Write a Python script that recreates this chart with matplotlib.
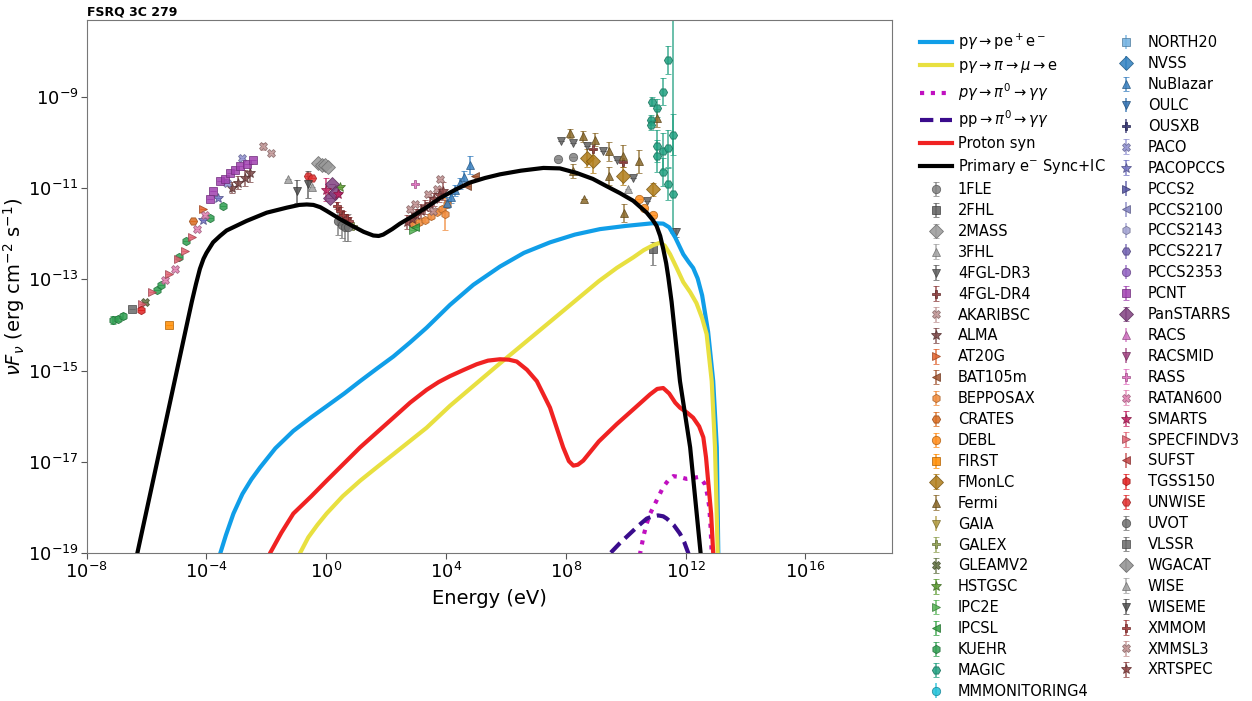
import numpy as np
import matplotlib
matplotlib.use("Agg")
import matplotlib.pyplot as plt
from matplotlib.ticker import NullLocator, FixedLocator, LogFormatterSciNotation

# ---------------- model curves (log10 E [eV], log10 nuFnu) ----------------
bh_logE = [-3.7, -3.54, -3.35, -3.10, -2.80, -2.50, -2.21, -1.70, -1.10, -0.50, 0.01, 0.60, 1.13, 1.70, 2.24,
           2.80, 3.35, 4.13, 4.91, 5.80, 6.60, 7.47, 8.30, 9.14, 10.0, 10.92, 11.25, 11.45, 11.65, 11.92,
           12.10, 12.25, 12.40, 12.55, 12.75, 12.92, 13.04, 13.09, 13.12]
bh_logF = [-19.5, -19.0, -18.6, -18.13, -17.7, -17.38, -17.12, -16.70, -16.32, -16.02, -15.78, -15.50, -15.23, -14.95, -14.69,
           -14.38, -14.06, -13.56, -13.12, -12.72, -12.42, -12.19, -12.02, -11.90, -11.83, -11.77, -11.78, -11.86, -12.08, -12.45,
           -12.62, -12.75, -12.98, -13.35, -14.15, -15.23, -16.68, -19.0, -19.5]

pi_logE = [-1.0, -0.88, -0.60, -0.30, 0.01, 0.55, 1.13, 1.70, 2.24, 3.35, 4.13, 5.80, 7.47, 9.10, 9.70, 10.25,
           10.60, 10.92, 11.14, 11.30, 11.48, 11.70, 11.92, 12.15, 12.36, 12.55, 12.70, 12.87, 12.98, 13.07, 13.10]
pi_logF = [-19.5, -19.0, -18.65, -18.38, -18.13, -17.75, -17.41, -17.11, -16.83, -16.25, -15.77, -14.84, -13.93, -13.04, -12.75, -12.52,
           -12.36, -12.25, -12.20, -12.26, -12.45, -12.75, -13.06, -13.28, -13.52, -13.85, -14.2, -15.23, -16.68, -19.0, -19.5]

pg_logE = [10.3, 10.48, 10.60, 10.70, 10.80, 10.92, 11.10, 11.25, 11.42, 11.59, 11.80, 12.03, 12.25, 12.42,
           12.55, 12.64, 12.72, 12.79, 12.83, 12.87, 12.90]
pg_logF = [-19.5, -19.0, -18.6, -18.35, -18.15, -17.99, -17.75, -17.55, -17.40, -17.31, -17.33, -17.37, -17.35, -17.33,
           -17.40, -17.48, -17.70, -17.99, -18.4, -19.0, -19.5]

pp_logE = [9.3, 9.48, 9.80, 10.14, 10.45, 10.70, 10.90, 11.08, 11.25, 11.37, 11.60, 11.81, 11.95, 12.09, 12.2]
pp_logF = [-19.4, -19.0, -18.78, -18.57, -18.38, -18.24, -18.19, -18.17, -18.19, -18.24, -18.38, -18.57, -18.75, -19.0, -19.3]

ps_logE = [-2.0, -1.88, -1.50, -1.10, -0.50, 0.01, 1.13, 2.24, 2.80, 3.35, 3.75, 4.13, 4.60, 5.02, 5.40, 5.80, 6.10, 6.36,
           6.70, 7.03, 7.47, 7.91, 8.10, 8.25, 8.40, 8.58, 9.10, 9.70, 10.30, 10.81, 11.05, 11.25, 11.45,
           11.65, 11.81, 12.05, 12.25, 12.45, 12.59, 12.68, 12.75, 12.85, 12.92, 12.95]
ps_logF = [-19.5, -19.0, -18.55, -18.13, -17.75, -17.41, -16.68, -16.03, -15.70, -15.42, -15.25, -15.12, -14.98, -14.86, -14.78, -14.75, -14.76, -14.80,
           -14.98, -15.23, -15.81, -16.68, -16.98, -17.08, -17.06, -16.97, -16.55, -16.17, -15.82, -15.52, -15.40, -15.38, -15.50,
           -15.70, -15.81, -15.92, -16.03, -16.22, -16.46, -16.90, -17.41, -18.13, -19.0, -19.5]

ec_logE = [-6.6, -6.31, -5.5, -4.9, -4.6, -4.49, -4.35, -4.22, -4.10, -4.0, -3.78, -3.55, -3.33, -2.66, -1.99, -1.32,
           -0.90, -0.65, -0.43, -0.20, 0.01, 0.46, 0.90, 1.25, 1.57, 1.75, 1.90, 2.20, 2.46, 2.90, 3.40, 3.80,
           4.30, 4.80, 5.30, 5.80, 6.50, 7.25, 7.80, 8.36, 8.90, 9.36, 9.80, 10.25, 10.70, 10.90, 11.03, 11.15,
           11.25, 11.35, 11.42, 11.53, 11.81, 12.15, 12.50, 12.6]
ec_logF = [-20.0, -19.0, -16.55, -14.73, -13.82, -13.49, -13.10, -12.77, -12.55, -12.42, -12.19, -12.05, -11.93, -11.72, -11.54, -11.43,
           -11.37, -11.36, -11.37, -11.42, -11.50, -11.68, -11.84, -11.96, -12.04, -12.05, -12.02, -11.90, -11.78, -11.61, -11.40, -11.22,
           -11.04, -10.88, -10.78, -10.70, -10.62, -10.56, -10.57, -10.67, -10.80, -10.96, -11.11, -11.28, -11.54, -11.70, -11.83, -12.05,
           -12.33, -12.65, -12.95, -13.49, -15.23, -16.68, -19.0, -19.5]

curve_labels = [r'p$\gamma\rightarrow$pe$^+$e$^-$',
                r'p$\gamma\rightarrow\pi\rightarrow\mu\rightarrow$e',
                r'$p\gamma\rightarrow\pi^0\rightarrow\gamma\gamma$',
                r'pp$\rightarrow\pi^0\rightarrow\gamma\gamma$',
                'Proton syn',
                r'Primary e$^{-}$ Sync+IC']
curve_colors = ['#109ee8', '#e8e040', '#c010c0', '#3a0c8c', '#f02222', '#000000']
curve_styles = ['-', '-', (0, (1, 1.6)), (0, (3.2, 1.6)), '-', '-']

# ---------------- data sources (legend order) ----------------
src_names = ['1FLE', '2FHL', '2MASS', '3FHL', '4FGL-DR3', '4FGL-DR4', 'AKARIBSC', 'ALMA', 'AT20G',
             'BAT105m', 'BEPPOSAX', 'CRATES', 'DEBL', 'FIRST', 'FMonLC', 'Fermi', 'GAIA', 'GALEX',
             'GLEAMV2', 'HSTGSC', 'IPC2E', 'IPCSL', 'KUEHR', 'MAGIC', 'MMMONITORING4',
             'NORTH20', 'NVSS', 'NuBlazar', 'OULC', 'OUSXB', 'PACO', 'PACOPCCS', 'PCCS2', 'PCCS2100',
             'PCCS2143', 'PCCS2217', 'PCCS2353', 'PCNT', 'PanSTARRS', 'RACS', 'RACSMID', 'RASS',
             'RATAN600', 'SMARTS', 'SPECFINDV3', 'SUFST', 'TGSS150', 'UNWISE', 'UVOT', 'VLSSR',
             'WGACAT', 'WISE', 'WISEME', 'XMMOM', 'XMMSL3', 'XRTSPEC']
src_colors = ['#808080', '#606060', '#999999', '#a3a3a3', '#606060', '#8b3a3a', '#c09595', '#7a4545', '#e0602a',
              '#a0522d', '#f08a3a', '#d96a1e', '#ff8c1a', '#ff8c00', '#b07d1a', '#8b6a2a', '#b09a40', '#8fa050',
              '#607040', '#5a9a30', '#50b050', '#30a040', '#2e9e50', '#20a080', '#20c0d8',
              '#70b0e0', '#2f80c0', '#3a80c0', '#3070b0', '#303070', '#9090d0', '#7070c0', '#5050a0', '#8080c0',
              '#a0a0d0', '#7060b0', '#9060c0', '#a040b0', '#804080', '#d070c0', '#a04080', '#e070c0',
              '#e080b0', '#c02060', '#e06070', '#c04040', '#e02020', '#e03030', '#707070', '#6a6a6a',
              '#909090', '#a0a0a0', '#505050', '#a03a3a', '#c09090', '#8b4040']
marker_cycle = ['o', 's', 'D', '^', 'v', 'P', 'X', '*', '>', '<', 'h', 'H']

# radio / mm points
radio_src = ['KUEHR', 'KUEHR', 'KUEHR', 'VLSSR', 'TGSS150', 'SPECFINDV3', 'GLEAMV2', 'FIRST',
             'SPECFINDV3', 'KUEHR', 'KUEHR', 'RATAN600', 'SPECFINDV3', 'RATAN600', 'SPECFINDV3', 'KUEHR',
             'SPECFINDV3', 'KUEHR', 'SPECFINDV3', 'RATAN600', 'CRATES', 'AT20G', 'RATAN600', 'PACOPCCS',
             'KUEHR', 'KUEHR', 'PACOPCCS', 'PCNT', 'PCNT', 'PCNT', 'PCNT', 'PCNT', 'PCNT', 'PCNT', 'PCNT', 'PCNT',
             'PACO', 'PACO', 'ALMA', 'ALMA', 'ALMA', 'ALMA', 'AKARIBSC', 'AKARIBSC']
radio_logE = [-7.11, -6.94, -6.78, -6.50, -6.20, -6.16, -6.05, -5.25,
              -5.83, -5.66, -5.53, -5.39, -5.24, -5.05, -4.94, -4.91,
              -4.72, -4.68, -4.49, -4.33, -4.46, -4.11, -4.05, -4.11,
              -3.88, -3.44, -3.61, -3.88, -3.77, -3.55, -3.38, -3.22, -3.05, -2.88, -2.66, -2.46,
              -2.82, -3.30, -3.16, -2.94, -2.71, -2.55, -2.10, -1.86]
radio_logF = [-13.89, -13.86, -13.80, -13.64, -13.67, -13.53, -13.49, -14.00,
              -13.28, -13.24, -13.13, -13.02, -12.88, -12.77, -12.55, -12.52,
              -12.37, -12.15, -12.08, -11.90, -11.73, -11.47, -11.59, -11.70,
              -11.65, -11.39, -11.21, -11.23, -11.07, -10.85, -10.81, -10.67, -10.60, -10.52, -10.47, -10.38,
              -10.34, -10.90, -10.99, -10.88, -10.78, -10.67, -10.09, -10.23]
radio_err = [0.08, 0.05, 0.07, 0.0, 0.0, 0.0, 0.0, 0.0,
             0.0, 0.0, 0.0, 0.0, 0.0, 0.0, 0.0, 0.0,
             0.0, 0.0, 0.0, 0.0, 0.0, 0.0, 0.0, 0.0,
             0.0, 0.0, 0.0, 0.0, 0.0, 0.0, 0.0, 0.0, 0.0, 0.0, 0.0, 0.0,
             0.0, 0.0, 0.12, 0.15, 0.18, 0.2, 0.08, 0.0]

# IR / optical / UV points
opt_src = ['WISE', 'WISEME', 'WISEME', 'WISE', 'UNWISE', 'UNWISE', '2MASS', '2MASS', '2MASS', '2MASS',
           'PanSTARRS', 'PanSTARRS', 'PanSTARRS', 'SMARTS', 'HSTGSC', 'SMARTS',
           'XMMOM', 'XMMOM', 'XMMOM', 'XMMOM', 'XMMOM', 'UVOT', 'UVOT', 'UVOT', 'UVOT', 'GALEX']
opt_logE = [-1.27, -0.99, -0.60, -0.49, -0.60, -0.49, -0.27, -0.15, -0.04, 0.07,
            0.18, 0.12, 0.29, 0.00, 0.46, 0.40,
            0.35, 0.46, 0.57, 0.68, 0.77, 0.40, 0.51, 0.62, 0.73, 0.90]
opt_logF = [-10.81, -11.07, -10.92, -10.97, -10.74, -10.78, -10.45, -10.49, -10.50, -10.54,
            -10.92, -11.21, -11.10, -11.04, -10.97, -11.13,
            -11.39, -11.50, -11.59, -11.66, -11.72, -11.73, -11.80, -11.86, -11.86, -11.84]
opt_err = [0.0, 0.25, 0.3, 0.0, 0.0, 0.0, 0.0, 0.0, 0.0, 0.0,
           0.0, 0.0, 0.0, 0.25, 0.0, 0.0,
           0.08, 0.08, 0.08, 0.08, 0.08, 0.3, 0.3, 0.3, 0.3, 0.0]

# X-ray points
xray_src = ['RASS', 'IPC2E', 'IPCSL',
            'BEPPOSAX', 'BEPPOSAX', 'BEPPOSAX', 'BEPPOSAX', 'BEPPOSAX', 'BEPPOSAX', 'BEPPOSAX', 'BEPPOSAX',
            'XRTSPEC', 'XRTSPEC', 'XRTSPEC', 'XRTSPEC', 'XRTSPEC', 'XRTSPEC', 'XRTSPEC', 'XRTSPEC', 'XRTSPEC',
            'XMMSL3', 'XMMSL3', 'XMMSL3', 'XMMSL3', 'XMMSL3', 'XMMSL3',
            'NuBlazar', 'NuBlazar', 'NuBlazar', 'NuBlazar', 'NuBlazar', 'NuBlazar', 'BAT105m', 'BAT105m']
xray_logE = [2.96, 2.90, 2.95,
             2.90, 3.10, 3.30, 3.50, 3.70, 3.85, 4.02, 3.96,
             2.70, 2.85, 3.00, 3.15, 3.30, 3.45, 3.60, 3.75, 3.90,
             2.80, 2.96, 3.41, 3.57, 3.69, 3.80,
             4.02, 4.15, 4.30, 4.45, 4.60, 4.80, 4.69, 4.97]
xray_logF = [-10.92, -11.93, -11.86,
             -11.79, -11.75, -11.70, -11.62, -11.52, -11.45, -11.36, -11.57,
             -11.75, -11.68, -11.60, -11.50, -11.42, -11.35, -11.25, -11.15, -11.07,
             -11.46, -11.36, -11.14, -11.50, -11.03, -10.81,
             -11.32, -11.20, -11.05, -10.90, -10.75, -10.49, -10.96, -10.74]
xray_err = [0.0, 0.0, 0.0,
            0.05, 0.05, 0.05, 0.05, 0.05, 0.05, 0.05, 0.35,
            0.15, 0.15, 0.15, 0.15, 0.15, 0.15, 0.15, 0.15, 0.2,
            0.0, 0.0, 0.0, 0.0, 0.0, 0.0,
            0.12, 0.12, 0.12, 0.12, 0.12, 0.2, 0.0, 0.0]

# gamma-ray points
gam_src = ['Fermi', 'Fermi', 'Fermi', 'Fermi', 'Fermi', 'Fermi', 'Fermi', 'Fermi', 'Fermi', 'Fermi', 'Fermi',
           'FMonLC', 'FMonLC', 'FMonLC', 'FMonLC', '1FLE', '1FLE',
           '4FGL-DR3', '4FGL-DR3', '4FGL-DR3', '4FGL-DR3', '4FGL-DR3', '4FGL-DR3', '4FGL-DR3', '4FGL-DR3',
           '4FGL-DR4', '4FGL-DR4', '3FHL', 'DEBL', 'DEBL', 'DEBL', '2FHL',
           'MAGIC', 'MAGIC', 'MAGIC', 'MAGIC', 'MAGIC', 'MAGIC', 'MAGIC', 'MAGIC', 'MAGIC', 'MAGIC',
           'MAGIC', 'MAGIC', 'MAGIC', 'MAGIC']
gam_logE = [8.14, 8.56, 8.97, 9.45, 9.92, 10.43, 8.25, 9.45, 8.61, 9.94, 11.03,
            8.69, 8.92, 9.92, 10.92, 7.75, 8.25,
            7.83, 8.25, 8.71, 9.23, 9.72, 10.23, 10.72, 11.68,
            8.92, 9.92, 10.08, 10.45, 10.61, 10.92, 10.92,
            11.42, 11.23, 10.86, 11.05, 10.84, 10.84, 11.59, 11.59, 11.03, 11.03,
            11.23, 11.42, 11.23, 11.40]
gam_logF = [-9.80, -9.87, -9.94, -10.20, -10.30, -10.41, -10.63, -10.73, -11.23, -11.54, -9.47,
            -10.34, -10.41, -10.74, -11.03, -10.36, -10.32,
            -9.98, -10.02, -10.07, -10.20, -10.38, -10.78, -11.28, -11.97,
            -10.15, -10.43, -11.03, -11.23, -11.43, -11.60, -12.33,
            -8.20, -8.89, -9.11, -9.25, -9.51, -9.62, -9.83, -11.14, -10.09, -10.30,
            -10.20, -10.13, -10.65, -10.92]
gam_elo = [0.1, 0.12, 0.15, 0.2, 0.25, 0.25, 0.15, 0.2, 0.0, 0.2, 0.2,
           0.2, 0.25, 0.2, 0.15, 0.0, 0.0,
           0.0, 0.0, 0.0, 0.0, 0.0, 0.0, 0.0, 0.1,
           0.0, 0.0, 0.0, 0.0, 0.0, 0.0, 0.35,
           0.3, 0.3, 0.1, 0.2, 0.1, 0.1, 0.45, 0.85, 0.35, 0.35,
           0.4, 0.4, 0.3, 0.35]
gam_ehi = [0.1, 0.12, 0.15, 0.2, 0.25, 0.25, 0.15, 0.2, 0.0, 0.2, 0.2,
           0.2, 0.25, 0.2, 0.15, 0.0, 0.0,
           0.0, 0.0, 0.0, 0.0, 0.0, 0.0, 0.0, 0.1,
           0.0, 0.0, 0.0, 0.0, 0.0, 0.0, 0.15,
           0.3, 0.3, 0.1, 0.2, 0.1, 0.1, 0.45, 5.0, 0.35, 0.35,
           0.4, 0.4, 0.3, 0.35]

title_text = 'FSRQ 3C 279'
xlabel_text = 'Energy (eV)'
ylabel_text = r'$\nu F_\nu$ (erg cm$^{-2}$ s$^{-1}$)'

# ---------------- figure ----------------
W, H = 1252, 701
fig = plt.figure(figsize=(W / 100, H / 100), dpi=100)
ax = fig.add_axes([86.7 / W, 1 - 553.3 / H, (891.7 - 86.7) / W, (553.3 - 20) / H])
ax.set_xscale('log')
ax.set_yscale('log')

handles = []
for xs, ys, lab, col, ls in zip([bh_logE, pi_logE, pg_logE, pp_logE, ps_logE, ec_logE],
                                [bh_logF, pi_logF, pg_logF, pp_logF, ps_logF, ec_logF],
                                curve_labels, curve_colors, curve_styles):
    ln, = ax.plot(10 ** np.array(xs), 10 ** np.array(ys), color=col, ls=ls, lw=3, label=lab, zorder=3,
                  solid_joinstyle='round')
    handles.append(ln)

all_src = radio_src + opt_src + xray_src + gam_src
all_E = radio_logE + opt_logE + xray_logE + gam_logE
all_F = radio_logF + opt_logF + xray_logF + gam_logF
all_lo = radio_err + opt_err + xray_err + gam_elo
all_hi = radio_err + opt_err + xray_err + gam_ehi


def darker(c, f=0.7):
    r, g, b = matplotlib.colors.to_rgb(c)
    return (r * f, g * f, b * f)


for i, name in enumerate(src_names):
    idx = [k for k, s in enumerate(all_src) if s == name]
    lx = np.array([all_E[k] for k in idx])
    ly = np.array([all_F[k] for k in idx])
    lo = np.array([all_lo[k] for k in idx])
    hi = np.array([all_hi[k] for k in idx])
    x = 10 ** lx
    y = 10 ** ly
    yerr = np.array([y - 10 ** (ly - lo), 10 ** (ly + hi) - y]) if len(idx) else np.zeros((2, 0))
    col = src_colors[i]
    mk = marker_cycle[i % len(marker_cycle)]
    ms = 7 if mk in ('*', 'D') else 6
    h = ax.errorbar(x, y, yerr=yerr, fmt=mk, color=col, ecolor=col, mec=darker(col), mew=0.6,
                    ms=ms, elinewidth=1.1, capsize=2.5, capthick=1.0, alpha=0.85, label=name, zorder=2)
    handles.append(h)

ax.set_xlim(1e-8, 10 ** 18.88)
ax.set_ylim(1e-19, 10 ** -7.32)
ax.xaxis.set_major_locator(FixedLocator(10.0 ** np.arange(-8, 19, 4)))
ax.yaxis.set_major_locator(FixedLocator(10.0 ** np.arange(-19, -8, 2)))
ax.xaxis.set_major_formatter(LogFormatterSciNotation())
ax.yaxis.set_major_formatter(LogFormatterSciNotation())
ax.xaxis.set_minor_locator(NullLocator())
ax.yaxis.set_minor_locator(NullLocator())
ax.tick_params(labelsize=13, color='#555555', length=4, pad=2)
for sp in ax.spines.values():
    sp.set_color('#777777')

ax.set_xlabel(xlabel_text, fontsize=14)
ax.set_ylabel(ylabel_text, fontsize=14)
ax.xaxis.set_label_coords(0.5, (553.3 - 589) / 533.3, transform=ax.transAxes)
ax.yaxis.set_label_coords((27 - 86.7) / 805.0, 0.5, transform=ax.transAxes)
ax.set_title(title_text, fontsize=9, fontweight='bold', loc='left', pad=3)

fig.legend(handles=handles, loc='upper left', bbox_to_anchor=(920 / W, 1 - 32 / H), ncol=2,
           frameon=False, fontsize=10.5, handlelength=2.2, handletextpad=0.4, labelspacing=0.405,
           columnspacing=0.3, borderaxespad=0, borderpad=0)

fig.savefig('out.png', dpi=100)
